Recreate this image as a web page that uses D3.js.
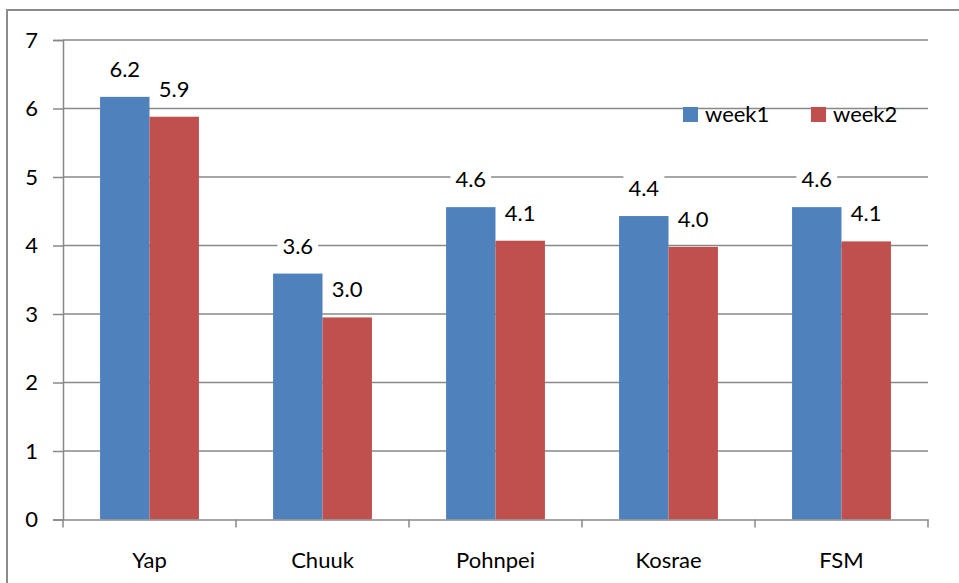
<!DOCTYPE html>
<html>
<head>
<meta charset="utf-8">
<script src="https://cdn.jsdelivr.net/npm/d3@7"></script>
<style>
  html, body { margin: 0; padding: 0; background: #fff; }
  svg { display: block; font-family: Lato, "Open Sans", sans-serif; }
</style>
</head>
<body>
<svg id="chart" width="959" height="583"></svg>
<script>
// Average values per state, two weeks
const categories = ["Yap", "Chuuk", "Pohnpei", "Kosrae", "FSM"];
const seriesNames = ["week1", "week2"];
const week1 = [6.17, 3.59, 4.56, 4.43, 4.56];
const week2 = [5.88, 2.95, 4.07, 3.98, 4.06];
const yTicks = [0, 1, 2, 3, 4, 5, 6, 7];
const colors = ["#4F81BD", "#C0504D"];

const svg = d3.select("#chart");
const margin = { left: 63, right: 31, top: 40, bottom: 63.5 };
const W = 959, H = 583;
const plotW = W - margin.left - margin.right;
const plotH = H - margin.top - margin.bottom;
const gridColor = "#888888";
const fontSize = 22;

// outer frame
svg.append("rect")
  .attr("x", 7).attr("y", 10)
  .attr("width", W).attr("height", H)
  .attr("fill", "none").attr("stroke", "#8c8c8c").attr("stroke-width", 2);

const g = svg.append("g").attr("transform", `translate(${margin.left},${margin.top})`);

const x0 = d3.scaleBand().domain(categories).range([0, plotW]).paddingInner(0).paddingOuter(0);
const x1 = d3.scaleBand().domain(seriesNames).range([0, x0.bandwidth()]).paddingInner(0).paddingOuter(0.75);
const y = d3.scaleLinear().domain([0, 7]).range([plotH, 0]);

// horizontal gridlines
g.append("g").selectAll("line").data(yTicks.filter(t => t > 0)).join("line")
  .attr("x1", 0).attr("x2", plotW)
  .attr("y1", d => y(d)).attr("y2", d => y(d))
  .attr("stroke", gridColor).attr("stroke-width", 1.5);

// y axis
const yAxis = g.append("g").call(d3.axisLeft(y).tickValues(yTicks).tickSize(10).tickPadding(15).tickFormat(d3.format("d")));
yAxis.select(".domain").attr("stroke", gridColor).attr("stroke-width", 1.5);
yAxis.selectAll(".tick line").attr("stroke", gridColor).attr("stroke-width", 1.5);
yAxis.selectAll(".tick text").attr("font-size", fontSize).attr("fill", "#000").attr("font-family", "Lato, sans-serif");

// bars
const groups = g.append("g").selectAll("g").data(categories).join("g")
  .attr("transform", d => `translate(${x0(d)},0)`);

const cells = groups.selectAll("g.bar").data((d, i) => [
  { s: seriesNames[0], v: week1[i], c: colors[0] },
  { s: seriesNames[1], v: week2[i], c: colors[1] }
]).join("g").attr("class", "bar");

cells.append("rect")
  .attr("x", d => x1(d.s))
  .attr("y", d => y(d.v))
  .attr("width", x1.bandwidth())
  .attr("height", d => y(0) - y(d.v))
  .attr("fill", d => d.c);

// x axis
const xAxis = g.append("g").attr("transform", `translate(0,${plotH})`)
  .call(d3.axisBottom(x0).tickSize(0).tickPadding(33));
xAxis.select(".domain").attr("stroke", gridColor).attr("stroke-width", 1.5);
xAxis.selectAll(".tick text").attr("font-size", fontSize).attr("fill", "#000").attr("font-family", "Lato, sans-serif");
// category boundary ticks
g.append("g").selectAll("line").data(d3.range(categories.length + 1)).join("line")
  .attr("x1", i => i * x0.step()).attr("x2", i => i * x0.step())
  .attr("y1", plotH).attr("y2", plotH + 8)
  .attr("stroke", gridColor).attr("stroke-width", 1.5);

// value labels with white backing
const fmt = d3.format(".1f");
cells.each(function(d) {
  const cell = d3.select(this);
  const cx = x1(d.s) + x1.bandwidth() / 2;
  const t = cell.append("text")
    .attr("x", cx).attr("y", y(d.v) - 20)
    .attr("text-anchor", "middle")
    .attr("font-size", fontSize).attr("fill", "#000")
    .text(fmt(d.v));
  const bb = t.node().getBBox();
  cell.insert("rect", "text")
    .attr("x", bb.x - 5).attr("y", bb.y).attr("width", bb.width + 10).attr("height", bb.height)
    .attr("fill", "#fff");
});

// legend
const legend = svg.append("g").attr("transform", "translate(683,107)");
const items = legend.selectAll("g").data(seriesNames).join("g")
  .attr("transform", (d, i) => `translate(${i * 128},0)`);
items.append("rect").attr("width", 15).attr("height", 15).attr("fill", (d, i) => colors[i]);
items.append("text").attr("x", 22).attr("y", 15).attr("font-size", fontSize).attr("fill", "#000").text(d => d);
</script>
</body>
</html>
